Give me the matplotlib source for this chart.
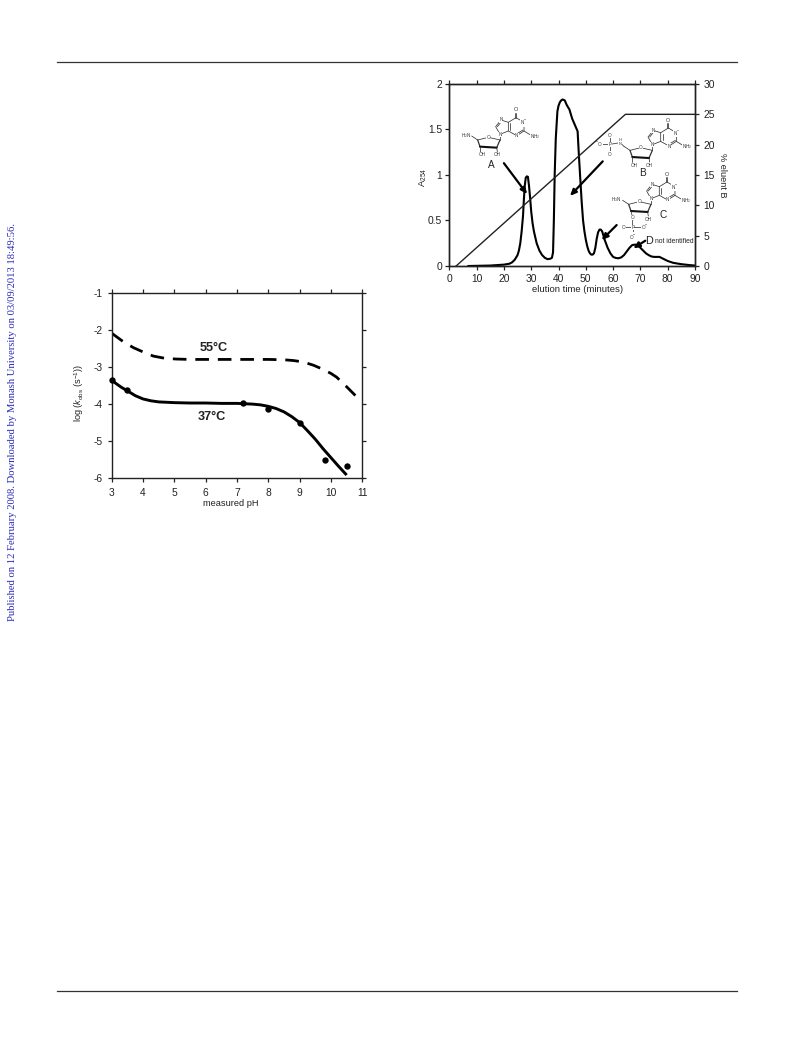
import numpy as np
import matplotlib
matplotlib.use("Agg")
import matplotlib.pyplot as plt
from matplotlib.lines import Line2D

plt.rcParams['font.family'] = ['Liberation Sans', 'DejaVu Sans']
plt.rcParams['mathtext.fontset'] = 'custom'
plt.rcParams['mathtext.it'] = 'Liberation Sans:italic'
plt.rcParams['mathtext.rm'] = 'Liberation Sans'

W, H = 793, 1040
INK = '#222222'

# --- Chromatogram data
elution_time = [7, 15, 20, 22, 23, 24, 25, 25.5, 26, 26.5, 27, 27.3, 27.6, 28, 28.4, 28.8, 29.2, 29.6, 30, 30.5,
                31, 32, 33, 34, 35, 36, 37, 37.6, 38, 38.3, 38.6, 39, 39.6, 40, 40.5, 41, 41.5, 42.3, 43, 44,
                45, 46, 47, 47.5, 48, 48.5, 49, 49.5, 50, 50.5, 51, 51.5, 52, 52.5, 53, 53.5, 54, 54.5, 55, 55.5, 56, 56.5,
                57, 58, 59, 60, 61, 62, 63, 64, 65, 66, 67, 68, 69, 70, 71, 72, 73, 74, 75, 76, 77, 78, 79, 80, 82, 85, 88, 90]
absorbance = [0, 0.005, 0.015, 0.025, 0.04, 0.07, 0.12, 0.17, 0.25, 0.38, 0.55, 0.72, 0.87, 0.97, 0.985, 0.98, 0.88, 0.75, 0.6, 0.47,
              0.38, 0.25, 0.17, 0.12, 0.09, 0.075, 0.08, 0.09, 0.15, 0.5, 1.0, 1.4, 1.7, 1.76, 1.8, 1.82, 1.83, 1.82, 1.77, 1.72,
              1.62, 1.55, 1.48, 1.2, 0.95, 0.7, 0.5, 0.38, 0.29, 0.22, 0.17, 0.14, 0.125, 0.125, 0.14, 0.2, 0.3, 0.37, 0.4, 0.4, 0.38, 0.33,
              0.28, 0.2, 0.14, 0.1, 0.088, 0.085, 0.095, 0.12, 0.16, 0.2, 0.23, 0.235, 0.23, 0.2, 0.17, 0.14, 0.12, 0.105, 0.1, 0.1, 0.1, 0.085, 0.07, 0.055, 0.035, 0.02, 0.01, 0.005]
gradient_time = [2.5, 64.5, 90]
gradient_pct = [0, 25, 25]

# --- pH profile data
ph_points = [3, 3.5, 7.2, 8, 9, 9.8, 10.5]
logk_points = [-3.35, -3.63, -3.96, -4.12, -4.5, -5.5, -5.68]
ph_37 = [3, 3.15, 3.3, 3.5, 3.75, 4, 4.25, 4.5, 4.75, 5, 5.5, 6, 6.5, 7, 7.5, 7.75, 8, 8.25, 8.5, 8.75, 9, 9.25, 9.5, 9.75, 10, 10.25, 10.5]
logk_37 = [-3.35, -3.45, -3.54, -3.64, -3.77, -3.86, -3.91, -3.94, -3.95, -3.96, -3.97, -3.97, -3.98, -3.98, -4.0, -4.02, -4.06, -4.12, -4.21, -4.34, -4.5, -4.72, -4.95, -5.21, -5.45, -5.69, -5.92]
ph_55 = [3, 3.37, 3.69, 4.06, 4.33, 4.7, 5.07, 5.5, 6, 6.5, 7, 7.5, 8, 8.5, 8.8, 9.12, 9.45, 9.75, 10, 10.18, 10.5, 10.84]
logk_55 = [-2.08, -2.31, -2.47, -2.61, -2.7, -2.76, -2.78, -2.79, -2.79, -2.79, -2.79, -2.79, -2.79, -2.8, -2.82, -2.86, -2.95, -3.06, -3.17, -3.27, -3.53, -3.82]

fig = plt.figure(figsize=(W/100, H/100), dpi=100)

def axes_px(x0, x1, y_top, y_bot):
    return fig.add_axes([x0/W, 1-y_bot/H, (x1-x0)/W, (y_bot-y_top)/H])

# Page furniture
fig.add_artist(Line2D([57/W, 737/W], [1-62/H]*2, color='#333333', lw=0.9))
fig.add_artist(Line2D([57/W, 737/W], [1-991/H]*2, color='#333333', lw=0.9))
fig.text(12.5/W, 1-422/H, 'Published on 12 February 2008. Downloaded by Monash University on 03/09/2013 18:49:56.',
         rotation=90, color='#2a2ab8', fontsize=7.7, family='Liberation Serif', ha='center', va='center')

# --- Left chart
ax = axes_px(111.7, 362.3, 293.3, 478)
ax.set_xlim(3, 11); ax.set_ylim(-6, -1)
ax.plot(ph_37, logk_37, color='black', lw=2.1, solid_capstyle='butt', solid_joinstyle='round')
ax.plot(ph_55, logk_55, color='black', lw=2.0, dashes=(4.9, 3.2))
ax.scatter(ph_points, logk_points, s=21, color='black', zorder=3, clip_on=False, linewidths=0)
ax.text(6.25, -2.49, '55°C', fontsize=9.2, fontweight='bold', ha='center', va='center', color=INK)
ax.text(6.2, -4.36, '37°C', fontsize=9.2, fontweight='bold', ha='center', va='center', color=INK)
ax.set_xticks(range(3, 12)); ax.set_yticks(range(-6, 0))
ax.set_yticklabels([str(v) for v in range(-6, 0)])
ax.set_xlabel('measured pH', fontsize=6.7, color=INK)
ax.set_ylabel(r'log ($k_{\mathrm{obs}}$ (s$^{-1}$))', fontsize=6.6, color=INK)
ax.xaxis.set_label_coords(0.474, -0.114)
ax.yaxis.set_label_coords(-0.103, 0.46)

# --- Right chart
ax1 = axes_px(449.3, 695, 84, 266)
ax1.set_xlim(0, 90); ax1.set_ylim(0, 2)
ax1.plot(elution_time, absorbance, color='black', lw=1.5, solid_joinstyle='round')
ax1.set_xticks(range(0, 91, 10)); ax1.set_yticks([0, 0.5, 1, 1.5, 2])
ax1.set_yticklabels(['0', '0.5', '1', '1.5', '2'])
ax1.set_xlabel('elution time (minutes)', fontsize=6.8, color=INK)
ax1.set_ylabel(r'A$_{254}$', fontsize=6.8, color=INK)
ax1.xaxis.set_label_coords(0.52, -0.104)
ax1.yaxis.set_label_coords(-0.083, 0.489)

ax2 = ax1.twinx()
ax2.set_ylim(0, 30); ax2.set_yticks(range(0, 31, 5))
ax2.plot(gradient_time, gradient_pct, color='#222222', lw=1.0)
ax2.set_ylabel('% eluent B', fontsize=6.6, rotation=270, va='center', color=INK)
ax2.yaxis.set_label_coords(1.113, 0.5)

for a in (ax, ax1, ax2):
    for s in a.spines.values():
        s.set_linewidth(1.0)
        s.set_color(INK)
    a.tick_params(labelsize=7.4, length=3.0, width=0.9, direction='out', pad=2.2, colors=INK,
                  top=(a is not ax2), right=(a is ax or a is ax2), left=(a is not ax2))
ax.tick_params(axis='x', pad=4.2)
ax.tick_params(axis='y', pad=3.6)
ax1.tick_params(axis='x', pad=2.8)
ax2.tick_params(axis='y', pad=3.0)

# Arrows and labels on the chromatogram, in data units of ax1
arrows = [((20, 1.13), (28.5, 0.79)), ((56.2, 1.15), (44.2, 0.77)),
          ((61.3, 0.45), (55.8, 0.285)), ((71.8, 0.278), (67.4, 0.194))]
for start, end in arrows:
    ax1.annotate('', xy=end, xytext=start,
                 arrowprops=dict(arrowstyle='-|>,head_width=0.16,head_length=0.36', color='black', lw=1.6,
                                 shrinkA=0, shrinkB=0))
ax1.text(15.5, 1.11, 'A', fontsize=7.2, ha='center', va='center', color=INK)
ax1.text(70.8, 1.02, 'B', fontsize=7.2, ha='center', va='center', color=INK)
ax1.text(78.5, 0.56, 'C', fontsize=7.2, ha='center', va='center', color=INK)
ax1.text(73, 0.277, 'D', fontsize=7.8, ha='center', va='center', color=INK)
ax1.text(75.3, 0.265, 'not identified', fontsize=4.9, ha='left', va='center', color=INK)

# Schematic nucleoside structures: offsets are in 1/3-pixel units from the sugar ring oxygen
def nucleoside(anchor, variant):
    sx, sy = 1/(3*2.73), 1/(3*91.0)
    px = lambda dx, dy: (anchor[0] + dx*sx, anchor[1] - dy*sy)
    def seg(pts, lw=0.55, col='#333333'):
        xs, ys = zip(*[px(*p) for p in pts])
        ax1.plot(xs, ys, color=col, lw=lw, zorder=4, solid_capstyle='round')
    def lab(dx, dy, s, fs=3.3):
        ax1.text(*px(dx, dy), s, fontsize=fs, ha='center', va='center', color='#333333', zorder=5,
                 bbox=dict(facecolor='white', edgecolor='none', pad=0.15))
    seg([(-32, 8), (-25, 28)], lw=0.9); seg([(35, 8), (25, 31)], lw=0.9)
    seg([(-25, 28), (25, 31)], lw=1.5, col='#111111')
    seg([(-32, 8), (0, 0), (35, 8)])
    seg([(-32, 8), (-50, -4)])
    seg([(35, 8), (35, -9)])
    seg([(35, -9), (22, -32), (38, -52), (60, -45), (60, -19), (35, -9)])
    seg([(60, -45), (83, -59), (107, -45), (107, -19), (85, -5), (60, -19)])
    seg([(83, -59), (83, -74)]); seg([(79, -59), (79, -74)])
    seg([(107, -19), (125, -8)])
    seg([(66, -42), (66, -22)]); seg([(27, -32), (39, -47)]); seg([(104, -22), (86, -11)])
    seg([(25, 31), (27, 43)])
    lab(0, 0, 'O'); lab(35, -9, 'N'); lab(38, -52, 'N'); lab(85, -5, 'N'); lab(107, -45, 'N$^{-}$')
    lab(83, -82, 'O', 4.0); lab(140, -2, 'NH$_2$')
    lab(27, 53, 'OH')
    if variant == 'A':
        seg([(-25, 28), (-25, 43)]); lab(-18, 53, 'OH'); lab(-68, -4, 'H$_2$N')
    elif variant == 'B':
        seg([(-25, 28), (-25, 43)]); lab(-18, 53, 'OH')
        seg([(-50, -4), (-62, -15), (-92, -10)])
        seg([(-92, -10), (-92, -35)]); seg([(-92, -10), (-92, 17)]); seg([(-92, -10), (-122, -10)])
        lab(-62, -17, 'H\nN', 2.8); lab(-92, -10, 'P'); lab(-92, -37, 'O'); lab(-92, 19, 'O'); lab(-126, -10, '$^{-}$O')
    else:
        lab(-68, -7, 'H$_3$N')
        seg([(-25, 28), (-20, 48), (-20, 77)])
        seg([(-43, 77), (12, 77)]); seg([(-20, 77), (-20, 103)])
        lab(-20, 48, 'O'); lab(-20, 77, 'P'); lab(-47, 77, 'O'); lab(16, 77, 'O$^{-}$'); lab(-20, 105, 'O$^{-}$')

nucleoside((14.3, 1.414), 'A')
nucleoside((70.1, 1.30), 'B')
nucleoside((69.6, 0.707), 'C')

fig.savefig('out.png', dpi=100)
